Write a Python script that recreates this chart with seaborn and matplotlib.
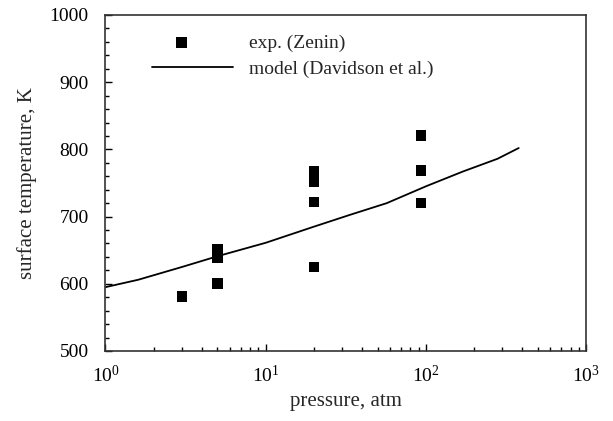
import numpy as np
import pandas as pd
import matplotlib
matplotlib.use("Agg")
import matplotlib.pyplot as plt
from matplotlib.legend_handler import HandlerPathCollection
from matplotlib.ticker import LogLocator, MultipleLocator, NullFormatter
import seaborn as sns

# Measured surface temperatures (Zenin)
exp_pressure = [3, 5, 5, 5, 20, 20, 20, 20, 20, 93, 93, 93]
exp_temperature = [581, 600, 639, 652, 625, 722, 752, 760, 767, 720, 769, 821]

# Model prediction (Davidson et al.)
model_pressure = [1.0, 1.6, 3, 5, 10, 20, 34, 57, 100, 170, 280, 380]
model_temperature = [595, 606, 625, 641, 661, 685, 703, 720, 745, 767, 786, 802]


class LeftMarkerHandler(HandlerPathCollection):
    """Legend handler that draws the single marker a little left of centre."""

    def get_xdata(self, legend, xdescent, ydescent, width, height, fontsize):
        xdata, _ = super().get_xdata(legend, xdescent, ydescent, width, height, fontsize)
        return xdata, [-xdescent + 0.365 * width]


sns.set_theme(style="ticks")
plt.rcParams["font.family"] = ["Liberation Serif", "DejaVu Serif"]
plt.rcParams["mathtext.fontset"] = "stix"

fig = plt.figure(figsize=(6.13, 4.21), dpi=100)
ax = fig.add_axes([0.1721, 0.1663, 0.9560 - 0.1721, 0.9644 - 0.1663])

exp_df = pd.DataFrame({"p": exp_pressure, "T": exp_temperature})
model_df = pd.DataFrame({"p": model_pressure, "T": model_temperature})

sns.lineplot(data=model_df, x="p", y="T", ax=ax, color="black", linewidth=1.3,
             label="model (Davidson et al.)", zorder=2)
sns.scatterplot(data=exp_df, x="p", y="T", ax=ax, marker="s", s=58, color="black",
                edgecolor="none", label="exp. (Zenin)", zorder=3)

ax.set_xscale("log")
ax.set_xlim(1, 1000)
ax.set_ylim(500, 1000)
ax.xaxis.set_major_locator(LogLocator(base=10, numticks=10))
ax.xaxis.set_minor_locator(LogLocator(base=10, subs=np.arange(2, 10), numticks=20))
ax.xaxis.set_minor_formatter(NullFormatter())
ax.yaxis.set_major_locator(MultipleLocator(100))
ax.yaxis.set_minor_locator(MultipleLocator(20))

ax.tick_params(axis="both", which="both", direction="in", colors="black",
               labelsize=14)
ax.tick_params(axis="both", which="major", length=5, width=1)
ax.tick_params(axis="both", which="minor", length=3, width=1)
ax.tick_params(axis="y", which="major", pad=12)
ax.tick_params(axis="x", which="major", pad=10)

for side in ["top", "right", "left", "bottom"]:
    ax.spines[side].set_visible(True)
    ax.spines[side].set_color("#333333")
    ax.spines[side].set_linewidth(1.2)

ax.set_xlabel("pressure, atm", fontsize=15, labelpad=4)
ax.set_ylabel("surface temperature, K", fontsize=15, labelpad=9)

handles, labels = ax.get_legend_handles_labels()
order = [labels.index("exp. (Zenin)"), labels.index("model (Davidson et al.)")]
scatter_handle = handles[order[0]]
ax.legend([handles[i] for i in order], [labels[i] for i in order],
          loc="upper left", bbox_to_anchor=(0.06, 0.995), frameon=False,
          fontsize=14, handlelength=4.2, handletextpad=0.8, labelspacing=0.45,
          handler_map={scatter_handle: LeftMarkerHandler()})

fig.savefig("out.png", dpi=100)
